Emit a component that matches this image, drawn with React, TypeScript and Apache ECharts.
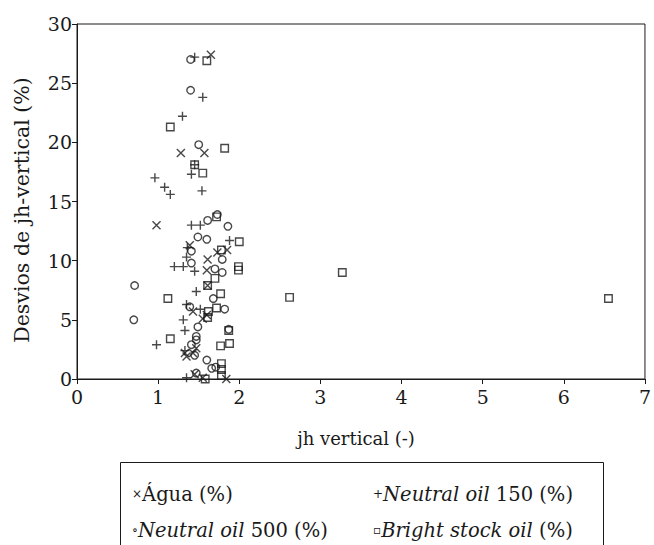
import React, { useEffect, useRef } from "react";
import * as echarts from "echarts";

const xTicks = [0, 1, 2, 3, 4, 5, 6, 7];
const yTicks = [0, 5, 10, 15, 20, 25, 30];

const agua: number[][] = [
  [1.65, 27.4], [1.28, 19.1], [1.57, 19.1], [0.98, 13.0], [1.39, 11.3], [1.73, 10.7], [1.85, 10.9],
  [1.61, 10.1], [1.6, 9.2], [1.61, 7.9], [1.43, 5.7], [1.55, 5.1], [1.6, 5.4], [1.47, 2.6],
  [1.35, 1.9], [1.33, 2.2], [1.43, 2.2], [1.45, 0.4], [1.55, 0.1], [1.84, 0.0],
];

const neutral150: number[][] = [
  [1.45, 27.2], [1.55, 23.8], [1.3, 22.2], [1.45, 18.1], [1.41, 17.3], [0.96, 17.0], [1.08, 16.2],
  [1.15, 15.6], [1.54, 15.9], [1.41, 13.0], [1.52, 13.0], [1.88, 11.7], [1.36, 11.1], [1.35, 10.3],
  [1.2, 9.5], [1.31, 9.5], [1.45, 9.1], [1.47, 7.4], [1.35, 6.3], [1.52, 5.9], [1.31, 5.0],
  [1.33, 4.1], [0.98, 2.9], [1.33, 2.4], [1.35, 0.1],
];

const neutral500: number[][] = [
  [1.4, 27.0], [1.4, 24.4], [1.5, 19.8], [1.61, 13.4], [1.73, 13.9], [1.86, 12.9], [1.49, 12.0],
  [1.6, 11.8], [1.41, 10.8], [1.79, 10.1], [1.41, 9.8], [1.7, 9.3], [1.79, 9.0], [0.71, 7.9],
  [1.68, 6.8], [1.82, 5.9], [1.39, 6.1], [0.7, 5.0], [1.49, 4.4], [1.87, 4.2], [1.47, 3.6],
  [1.47, 3.3], [1.41, 2.9], [1.45, 2.0], [1.6, 1.6], [1.66, 0.9], [1.71, 1.0], [1.47, 0.5],
];

const brightStock: number[][] = [
  [1.6, 26.9], [1.15, 21.3], [1.82, 19.5], [1.45, 18.1], [1.55, 17.4], [1.72, 13.7], [2.0, 11.6],
  [1.78, 10.9], [1.99, 9.5], [1.99, 9.2], [1.7, 8.5], [1.61, 7.9], [1.77, 7.2], [1.12, 6.8],
  [1.72, 6.0], [1.62, 5.7], [1.61, 5.2], [1.87, 4.1], [1.15, 3.4], [1.77, 2.8], [1.88, 3.0],
  [1.78, 1.3], [1.78, 0.8], [1.78, 0.3], [1.58, 0.0], [2.62, 6.9], [3.27, 9.0], [6.55, 6.8],
];

const seriesNames = ["Água (%)", "Neutral oil 150 (%)", "Neutral oil 500 (%)", "Bright stock oil (%)"];

const INK = "#1a1a1a";
const FONT = "DejaVu Serif";
const LEG = 19.5;

export default function App() {
  const ref = useRef<HTMLDivElement>(null);
  useEffect(() => {
    if (!ref.current) return;
    const chart = echarts.init(ref.current, undefined, { renderer: "svg" });
    const mk = (name: string, data: number[][], symbol: string, size: number) => ({
      name,
      type: "scatter",
      data,
      symbol,
      symbolSize: size,
      itemStyle: { color: "none", borderColor: INK, borderWidth: 1.4 },
      emphasis: { disabled: true },
    });
    const rich = {
      m: { fontFamily: FONT, fontSize: 12, fill: INK },
      i: { fontFamily: FONT, fontSize: LEG, fontStyle: "italic", fill: INK },
      n: { fontFamily: FONT, fontSize: LEG, fill: INK },
    };
    chart.setOption({
      animation: false,
      grid: { left: 77, right: 7, top: 24, bottom: 166, show: true, borderColor: INK, borderWidth: 1, backgroundColor: "transparent" },
      xAxis: {
        type: "value",
        min: xTicks[0],
        max: xTicks[xTicks.length - 1],
        interval: 1,
        splitLine: { show: false },
        axisLine: { show: true, lineStyle: { color: INK, width: 1 } },
        axisTick: { show: true, length: 5, lineStyle: { color: INK } },
        axisLabel: { color: INK, fontFamily: FONT, fontSize: 19, margin: 8 },
      },
      yAxis: {
        type: "value",
        min: yTicks[0],
        max: yTicks[yTicks.length - 1],
        interval: 5,
        splitLine: { show: false },
        axisLine: { show: true, lineStyle: { color: INK, width: 1 } },
        axisTick: { show: true, length: 5, lineStyle: { color: INK } },
        axisLabel: { color: INK, fontFamily: FONT, fontSize: 19, margin: 5 },
      },
      series: [
        mk(seriesNames[0], agua, "path://M0,0L10,10M10,0L0,10", 8),
        mk(seriesNames[1], neutral150, "path://M5,0L5,10M0,5L10,5", 9),
        mk(seriesNames[2], neutral500, "circle", 7.5),
        mk(seriesNames[3], brightStock, "rect", 7.5),
      ],
      graphic: [
        {
          type: "text",
          x: 22,
          y: 210,
          rotation: Math.PI / 2,
          style: { text: "Desvios de jh-vertical (%)", fontFamily: FONT, fontSize: 20.5, fill: INK, align: "center", verticalAlign: "middle" },
        },
        {
          type: "text",
          x: 356,
          y: 438,
          style: { text: "jh vertical (-)", fontFamily: FONT, fontSize: 18, fill: INK, align: "center", verticalAlign: "middle" },
        },
        {
          type: "rect",
          shape: { x: 120.5, y: 462.5, width: 483, height: 120 },
          style: { fill: "none", stroke: INK, lineWidth: 1 },
        },
        {
          type: "text",
          x: 132,
          y: 494,
          style: { text: "{m|×}{n|Água (%)}", verticalAlign: "middle", rich },
        },
        {
          type: "text",
          x: 373,
          y: 494,
          style: { text: "{m|+}{i|Neutral oil}{n| 150 (%)}", verticalAlign: "middle", rich },
        },
        {
          type: "text",
          x: 132,
          y: 530,
          style: { text: "{m|∘}{i|Neutral oil}{n| 500 (%)}", verticalAlign: "middle", rich },
        },
        {
          type: "text",
          x: 373,
          y: 530,
          style: { text: "{m|▫}{i|Bright stock oil}{n| (%)}", verticalAlign: "middle", rich },
        },
      ],
    });
    return () => chart.dispose();
  }, []);
  return <div ref={ref} style={{ position: "fixed", left: 0, top: 0, width: 654, height: 545, background: "#fff" }} />;
}
